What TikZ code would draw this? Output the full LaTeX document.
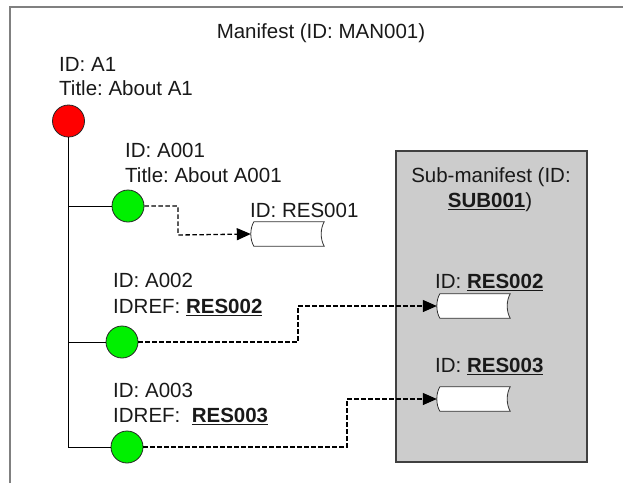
\documentclass[tikz,border=0pt]{standalone}
\usepackage{fontspec}
\setmainfont{Liberation Sans}
\usetikzlibrary{arrows.meta,calc}
\definecolor{framegray}{HTML}{808080}
\definecolor{subfill}{HTML}{CCCCCC}
\definecolor{subline}{HTML}{404040}
\definecolor{rootred}{HTML}{FF0000}
\definecolor{leafgreen}{HTML}{00F000}
\frenchspacing
\newcommand{\bul}[1]{\setbox0\hbox{\textbf{#1}}\rlap{\rule[-3.2pt]{\wd0}{1.5pt}}\box0}
\newcommand{\resshape}[1]{\draw[resline] ($(#1.north west)+(3,0)$) -- (#1.north east) .. controls ($(#1.north east)+(-4,7)$) and ($(#1.south east)+(-4,-7)$) .. (#1.south east) -- ($(#1.south west)+(3,0)$) .. controls ($(#1.south west)+(-1,-7)$) and ($(#1.north west)+(-1,7)$) .. ($(#1.north west)+(3,0)$) -- cycle;}
\tikzset{
  lbl/.style={anchor=base west, inner sep=0pt, font=\fontsize{20.5}{25}\selectfont\frenchspacing, text=black!90},
  clbl/.style={anchor=base, inner sep=0pt, font=\fontsize{20.5}{25}\selectfont\frenchspacing, text=black!90},
  rootnode/.style={circle, draw=black!85, line width=0.8pt, fill=rootred, minimum size=32pt, inner sep=0pt},
  leafnode/.style={circle, draw=black!85, line width=0.8pt, fill=leafgreen, minimum size=32pt, inner sep=0pt},
  resbox/.style={rectangle, draw=none, minimum width=73pt, minimum height=24pt, inner sep=0pt},
  resline/.style={draw=black!80, line width=0.8pt, fill=white},
  trunk/.style={draw=black, line width=1pt},
  ref/.style={draw=black, line width=1.3pt, dash pattern=on 4.5pt off 2.5pt, -{Triangle[length=14pt,width=12pt]}},
}
\begin{document}
\begin{tikzpicture}[x=1pt,y=-1pt]
\useasboundingbox (0,0) rectangle (623,483);
% outer frame (top and left visible)
\draw[framegray, line width=1.6pt] (10,483) -- (10,7) -- (623,7);
% sub-manifest box
\draw[fill=subfill, draw=subline, line width=1.3pt] (396,151) rectangle (587,462);
% texts
\node[clbl] (mtitle) at (321,38) {Manifest (ID: MAN001)};
\node[lbl] (a1id) at (59,71) {ID: A1};
\node[lbl] (a1t) at (59,95) {Title: About A1};
\node[lbl] (a001id) at (125,157) {ID: A001};
\node[lbl] (a001t) at (125,182) {Title: About A001};
\node[lbl] (res1l) at (250,217) {ID: RES001};
\node[lbl] (a002id) at (113,287) {ID: A002};
\node[lbl] (a002r) at (113,313) {IDREF: \bul{RES002}};
\node[lbl] (a003id) at (113,397) {ID: A003};
\node[lbl] (a003r) at (113,422) {IDREF:\ \ \bul{RES003}};
\node[lbl] (res2l) at (435,288) {ID: \bul{RES002}};
\node[lbl] (res3l) at (435,372) {ID: \bul{RES003}};
\node[clbl] (subt1) at (491,182) {Sub-manifest (ID:};
\node[clbl] (subt2) at (490,207) {\bul{SUB001})};
% circles
\node[rootnode] (root) at (68.5,121) {};
\node[leafnode] (g1) at (128,206) {};
\node[leafnode] (g2) at (122,342) {};
\node[leafnode] (g3) at (127,447) {};
% resource shapes
\node[resbox] (r1) at (287.5,234) {};
\node[resbox] (r2) at (473.5,306) {};
\node[resbox] (r3) at (473.5,399) {};
\resshape{r1}
\resshape{r2}
\resshape{r3}
% tree lines
\coordinate (t1) at (root.south |- g1.west);
\coordinate (t2) at (root.south |- g2.west);
\coordinate (t3) at (root.south |- g3.west);
\draw[trunk] (root.south) -- (t3) -- (g3.west);
\draw[trunk] (t1) -- (g1.west);
\draw[trunk] (t2) -- (g2.west);
% reference connectors
\coordinate (k1) at (178,235);
\coordinate (k2) at (298,306);
\coordinate (k3) at (347,399);
\draw[ref] (g1.east) -| (k1) -- (r1.west);
\draw[ref] (g2.east) -| (k2) -- (r2.west);
\draw[ref] (g3.east) -| (k3) -- (r3.west);
\end{tikzpicture}
\end{document}
